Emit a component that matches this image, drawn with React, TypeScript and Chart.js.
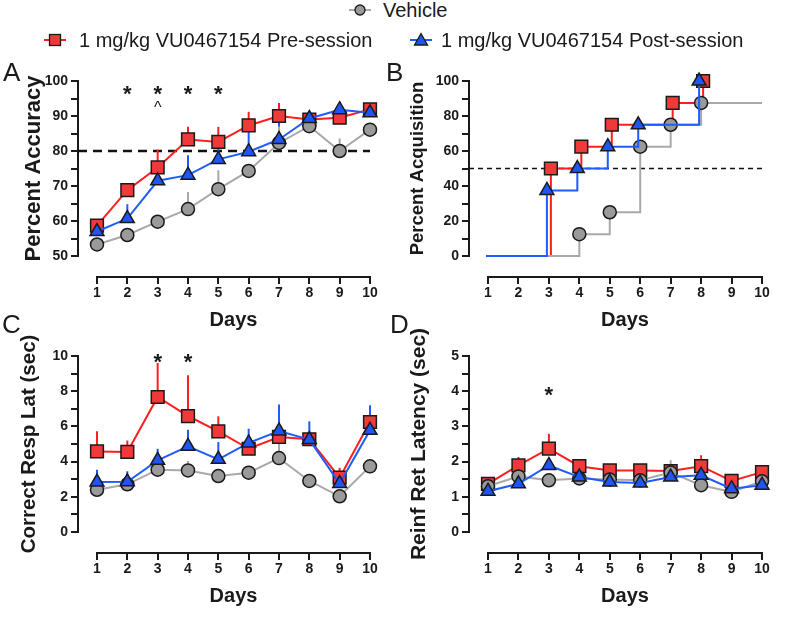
import React, { useEffect, useRef } from "react";
import { Chart, registerables } from "chart.js";

Chart.register(...registerables);

const FONT = "'Liberation Sans', Arial, Helvetica, sans-serif";
const INK = "#1a1a1a";
Chart.defaults.font.family = FONT;

// ---------------- data ----------------
const DAYS = [1, 2, 3, 4, 5, 6, 7, 8, 9, 10];
const LBL_VEH = "Vehicle";
const LBL_PRE = "1 mg/kg VU0467154 Pre-session";
const LBL_POST = "1 mg/kg VU0467154 Post-session";

// Panel A – Percent Accuracy
const ACC_TICKS = [50, 55, 60, 65, 70, 75, 80, 85, 90, 95, 100];
const ACC_LABELS = [50, 60, 70, 80, 90, 100];
const ACC_CRITERION = 80;
const accVehicle = [53.3, 56.0, 59.8, 63.4, 69.1, 74.3, 82.3, 87.1, 80.0, 86.1];
const accVehicleErr = [0.8, 1.0, 1.2, 4.9, 5.4, 0.8, 4.7, 1.0, 3.6, 1.2];
const accPre = [58.7, 68.8, 75.3, 83.3, 82.6, 87.3, 90.0, 89.0, 89.5, 91.9];
const accPreErr = [1.0, 1.0, 5.1, 3.6, 4.3, 3.9, 3.7, 1.0, 1.2, 1.0];
const accPost = [57.0, 60.7, 71.5, 73.1, 77.6, 79.8, 83.3, 89.3, 91.8, 90.9];
const accPostErr = [1.0, 4.1, 4.5, 5.7, 6.0, 5.9, 6.0, 1.0, 1.0, 1.0];
const ACC_STAR_DAYS = [2, 3, 4, 5];
const ACC_STAR_Y = 97.8;
const ACC_CARET_DAYS = [3];
const ACC_CARET_Y = 93.1;

// Panel B – Percent Acquisition (cumulative, stepped)
const ACQ_TICKS = [0, 10, 20, 30, 40, 50, 60, 70, 80, 90, 100];
const ACQ_LABELS = [0, 20, 40, 60, 80, 100];
const ACQ_CRITERION = 50;
const acqVehDays = [1, 4, 5, 6, 7, 8, 10];
const acqVeh = [0, 12.5, 25, 62.5, 75, 87.5, 87.5];
const acqVehMark = [0, 1, 1, 1, 1, 1, 0];
const acqPreDays = [1, 3, 4, 5, 7, 8];
const acqPre = [0, 50, 62.5, 75, 87.5, 100];
const acqPreMark = [0, 1, 1, 1, 1, 1];
const acqPostDays = [1, 3, 4, 5, 6, 8];
const acqPost = [0, 37.5, 50, 62.5, 75, 100];
const acqPostMark = [0, 1, 1, 1, 1, 1];

// Panel C – Correct Resp Lat (sec)
const LAT_TICKS = [0, 1, 2, 3, 4, 5, 6, 7, 8, 9, 10];
const LAT_LABELS = [0, 2, 4, 6, 8, 10];
const latVehicle = [2.40, 2.71, 3.54, 3.50, 3.18, 3.37, 4.20, 2.90, 2.03, 3.73];
const latVehicleErr = [0.15, 0.2, 0.35, 0.53, 0.2, 0.2, 0.8, 0.15, 0.3, 0.2];
const latPre = [4.58, 4.55, 7.67, 6.59, 5.72, 4.73, 5.40, 5.27, 3.09, 6.25];
const latPreErr = [1.14, 0.65, 1.93, 2.31, 0.85, 0.2, 0.3, 0.3, 0.56, 0.3];
const latPost = [2.84, 2.85, 4.07, 4.87, 4.13, 5.06, 5.74, 5.25, 2.75, 5.78];
const latPostErr = [0.70, 0.60, 0.66, 0.94, 0.98, 0.81, 1.51, 1.04, 0.2, 1.42];
const LAT_STAR_DAYS = [3, 4];
const LAT_STAR_Y = 10.0;

// Panel D – Reinf Ret Latency (sec)
const RET_TICKS = [0, 0.5, 1, 1.5, 2, 2.5, 3, 3.5, 4, 4.5, 5];
const RET_LABELS = [0, 1, 2, 3, 4, 5];
const retVehicle = [1.30, 1.58, 1.47, 1.52, 1.49, 1.47, 1.69, 1.33, 1.14, 1.44];
const retVehicleErr = [0.1, 0.1, 0.1, 0.1, 0.1, 0.1, 0.35, 0.1, 0.1, 0.1];
const retPre = [1.37, 1.89, 2.37, 1.87, 1.75, 1.75, 1.73, 1.87, 1.45, 1.70];
const retPreErr = [0.1, 0.24, 0.42, 0.1, 0.1, 0.1, 0.1, 0.31, 0.1, 0.1];
const retPost = [1.16, 1.37, 1.89, 1.56, 1.42, 1.39, 1.56, 1.61, 1.23, 1.33];
const retPostErr = [0.1, 0.1, 0.1, 0.1, 0.1, 0.1, 0.1, 0.1, 0.1, 0.1];
const RET_STAR_DAYS = [3];
const RET_STAR_Y = 4.05;

// ---------------- styles ----------------
const STYLE: Record<string, any> = {
  veh: { label: LBL_VEH, line: "#a9a9a9", fill: "#9a9a9a", point: "circle", r: 6.5 },
  pre: { label: LBL_PRE, line: "#ff1e1e", fill: "#f03a3a", point: "rect", r: 9 },
  post: { label: LBL_POST, line: "#1e5cff", fill: "#1f55f5", point: "triangle", r: 8 },
};

function lineSeries(key: string, values: number[], errors: number[]) {
  const st = STYLE[key];
  return {
    label: st.label,
    data: DAYS.map((d, i) => ({ x: d, y: values[i] })),
    errors,
    borderColor: st.line,
    borderWidth: 2,
    pointStyle: st.point,
    pointRadius: st.r,
    pointHoverRadius: st.r,
    pointBackgroundColor: st.fill,
    pointBorderColor: INK,
    pointBorderWidth: 1.5,
    fill: false,
    tension: 0,
    clip: false,
  };
}

function stepSeries(key: string, days: number[], values: number[], marks: number[], shift: number) {
  const st = STYLE[key];
  return {
    label: st.label,
    data: days.map((d, i) => ({ x: d, y: values[i] })),
    shift,
    stepped: true,
    borderColor: st.line,
    borderWidth: 2,
    pointStyle: st.point,
    pointRadius: (c: any) => (marks[c.dataIndex] ? st.r : 0),
    pointHoverRadius: (c: any) => (marks[c.dataIndex] ? st.r : 0),
    pointBackgroundColor: st.fill,
    pointBorderColor: INK,
    pointBorderWidth: 1.5,
    fill: false,
    clip: false,
  };
}

type Mark = { days: number[]; y: number; text: string; size: number; weight: string; lift: number };
type Spec = {
  datasets: any[];
  yMin: number;
  yMax: number;
  yTicks: number[];
  yLabels: number[];
  yTitle: string;
  yTitleSize: number;
  yTitlePad: number;
  padTop: number;
  padRight: number;
  ref?: { value: number; width: number; dash: number[] };
  marks?: Mark[];
};

const AXIS_GAP = 19; // gap between the y axis line and day 1
const XAXIS_DROP = 21; // gap between the plot floor and the x axis line
const Y_AXIS_W = 78;
const X_AXIS_H = 55;

function drawMarks(chart: any, marks: Mark[]) {
  const ctx = chart.ctx;
  const xs = chart.scales.x;
  const ys = chart.scales.y;
  ctx.save();
  ctx.fillStyle = INK;
  ctx.textAlign = "center";
  ctx.textBaseline = "alphabetic";
  marks.forEach((m) => {
    ctx.font = `${m.weight} ${m.size}px ${FONT}`;
    m.days.forEach((d) => {
      ctx.fillText(m.text, xs.getPixelForValue(d), ys.getPixelForValue(m.y) + m.lift * m.size);
    });
  });
  ctx.restore();
}

function drawUnderlay(chart: any, spec: Spec) {
  const ctx = chart.ctx;
  const xs = chart.scales.x;
  const ys = chart.scales.y;
  const axisX = chart.scales.yAxis ? chart.scales.yAxis.right : chart.chartArea.left - AXIS_GAP;
  ctx.save();
  if (spec.ref) {
    const py = ys.getPixelForValue(spec.ref.value);
    ctx.setLineDash(spec.ref.dash);
    ctx.lineWidth = spec.ref.width;
    ctx.strokeStyle = "#111";
    ctx.beginPath();
    ctx.moveTo(axisX, py);
    ctx.lineTo(xs.getPixelForValue(DAYS[DAYS.length - 1]), py);
    ctx.stroke();
    ctx.setLineDash([]);
  }
  chart.data.datasets.forEach((ds: any, i: number) => {
    if (!ds.errors) return;
    const meta = chart.getDatasetMeta(i);
    ctx.strokeStyle = ds.borderColor;
    ctx.lineWidth = 2;
    meta.data.forEach((pt: any, j: number) => {
      const e = ds.errors[j];
      if (!e) return;
      const top = ys.getPixelForValue(ds.data[j].y + e);
      ctx.beginPath();
      ctx.moveTo(pt.x, pt.y);
      ctx.lineTo(pt.x, top);
      ctx.stroke();
    });
  });
  ctx.restore();
}

const spacer = (min: number, max: number, position: string, size: number) => ({
  type: "linear",
  min,
  max,
  position,
  weight: 0,
  display: true,
  afterFit: (s: any) => {
    if (position === "left") s.width = size;
    else s.height = size;
  },
  ticks: { display: false },
  grid: { display: false, drawTicks: false },
  border: { display: false },
  title: { display: false },
});

function buildConfig(spec: Spec): any {
  const yTicks = spec.yTicks;
  const yLabels = spec.yLabels;
  const marks = spec.marks || [];
  const tickFont = { size: 14, weight: "bold", family: FONT };
  const axisGrid = {
    display: true,
    drawOnChartArea: false,
    drawTicks: true,
    tickLength: 7,
    tickWidth: 2,
    tickColor: INK,
    color: INK,
    lineWidth: 2,
  };
  return {
    type: "line",
    data: { datasets: spec.datasets },
    plugins: [
      {
        id: "underlay",
        beforeDatasetsDraw: (c: any) => drawUnderlay(c, spec),
        beforeDatasetDraw: (c: any, args: any) => {
          const s = c.data.datasets[args.index].shift;
          if (s) {
            c.ctx.save();
            c.ctx.translate(s, 0);
          }
        },
        afterDatasetDraw: (c: any, args: any) => {
          if (c.data.datasets[args.index].shift) c.ctx.restore();
        },
        afterDraw: (c: any) => drawMarks(c, marks),
      },
    ],
    options: {
      responsive: false,
      animation: false,
      events: [],
      layout: { padding: { top: spec.padTop, right: spec.padRight, left: 0, bottom: 0 } },
      plugins: { legend: { display: false }, tooltip: { enabled: false } },
      scales: {
        // data scales (also act as the spacing that detaches the axes)
        x: spacer(DAYS[0], DAYS[DAYS.length - 1], "bottom", XAXIS_DROP),
        y: spacer(spec.yMin, spec.yMax, "left", AXIS_GAP),
        // visible, detached axes
        xAxis: {
          type: "linear",
          position: "bottom",
          weight: 1,
          min: DAYS[0],
          max: DAYS[DAYS.length - 1],
          afterFit: (s: any) => {
            s.height = X_AXIS_H;
          },
          afterBuildTicks: (s: any) => {
            s.ticks = DAYS.map((v) => ({ value: v }));
          },
          grid: axisGrid,
          border: { display: true, color: INK, width: 2 },
          ticks: {
            padding: 1,
            autoSkip: false,
            maxRotation: 0,
            color: INK,
            font: tickFont,
            callback: (v: any) => String(v),
          },
          title: {
            display: true,
            text: "Days",
            color: INK,
            font: { size: 20, weight: "bold", family: FONT },
            padding: { top: 0, bottom: 0 },
          },
        },
        yAxis: {
          type: "linear",
          position: "left",
          weight: 1,
          min: spec.yMin,
          max: spec.yMax,
          afterFit: (s: any) => {
            s.width = Y_AXIS_W;
          },
          afterBuildTicks: (s: any) => {
            s.ticks = yTicks.map((v) => ({ value: v }));
          },
          grid: axisGrid,
          border: { display: true, color: INK, width: 2 },
          ticks: {
            padding: 3,
            autoSkip: false,
            color: INK,
            font: tickFont,
            callback: (v: any) => (yLabels.includes(v) ? String(v) : ""),
          },
          title: {
            display: true,
            text: spec.yTitle,
            color: INK,
            font: { size: spec.yTitleSize, weight: "bold", family: FONT },
            padding: { top: spec.yTitlePad, bottom: 0 },
          },
        },
      },
    },
  };
}

const SPEC_A: Spec = {
  datasets: [
    lineSeries("post", accPost, accPostErr),
    lineSeries("veh", accVehicle, accVehicleErr),
    lineSeries("pre", accPre, accPreErr),
  ],
  yMin: 50,
  yMax: 100,
  yTicks: ACC_TICKS,
  yLabels: ACC_LABELS,
  yTitle: "Percent Accuracy",
  yTitleSize: 22,
  yTitlePad: 21,
  padTop: 31,
  padRight: 25,
  ref: { value: ACC_CRITERION, width: 2.5, dash: [9, 6] },
  marks: [
    { days: ACC_STAR_DAYS, y: ACC_STAR_Y, text: "*", size: 22, weight: "bold", lift: 0.57 },
    { days: ACC_CARET_DAYS, y: ACC_CARET_Y, text: "^", size: 16, weight: "normal", lift: 0.52 },
  ],
};

const SPEC_B: Spec = {
  datasets: [
    stepSeries("post", acqPostDays, acqPost, acqPostMark, -2),
    stepSeries("veh", acqVehDays, acqVeh, acqVehMark, 0),
    stepSeries("pre", acqPreDays, acqPre, acqPreMark, 2),
  ],
  yMin: 0,
  yMax: 100,
  yTicks: ACQ_TICKS,
  yLabels: ACQ_LABELS,
  yTitle: "Percent Acquisition",
  yTitleSize: 18.5,
  yTitlePad: 16,
  padTop: 31,
  padRight: 24,
  ref: { value: ACQ_CRITERION, width: 1.5, dash: [5, 4] },
};

const SPEC_C: Spec = {
  datasets: [
    lineSeries("post", latPost, latPostErr),
    lineSeries("veh", latVehicle, latVehicleErr),
    lineSeries("pre", latPre, latPreErr),
  ],
  yMin: 0,
  yMax: 10,
  yTicks: LAT_TICKS,
  yLabels: LAT_LABELS,
  yTitle: "Correct Resp Lat (sec)",
  yTitleSize: 20.5,
  yTitlePad: 17,
  padTop: 36,
  padRight: 25,
  marks: [{ days: LAT_STAR_DAYS, y: LAT_STAR_Y, text: "*", size: 22, weight: "bold", lift: 0.57 }],
};

const SPEC_D: Spec = {
  datasets: [
    lineSeries("post", retPost, retPostErr),
    lineSeries("veh", retVehicle, retVehicleErr),
    lineSeries("pre", retPre, retPreErr),
  ],
  yMin: 0,
  yMax: 5,
  yTicks: RET_TICKS,
  yLabels: RET_LABELS,
  yTitle: "Reinf Ret Latency (sec)",
  yTitleSize: 21,
  yTitlePad: 16,
  padTop: 36,
  padRight: 24,
  marks: [{ days: RET_STAR_DAYS, y: RET_STAR_Y, text: "*", size: 22, weight: "bold", lift: 0.57 }],
};

function Panel({ spec, left, top, width, height }: { spec: Spec; left: number; top: number; width: number; height: number }) {
  const ref = useRef<HTMLCanvasElement>(null);
  useEffect(() => {
    const chart = new Chart(ref.current as HTMLCanvasElement, buildConfig(spec));
    return () => chart.destroy();
  }, [spec]);
  return (
    <canvas
      ref={ref}
      width={width}
      height={height}
      style={{ position: "absolute", left, top, width, height }}
    />
  );
}

function LegendIcon({ kind }: { kind: string }) {
  const st = STYLE[kind];
  let marker: any;
  if (kind === "veh") marker = <circle cx={12} cy={9} r={5} fill={st.fill} stroke={INK} strokeWidth={1.3} />;
  else if (kind === "pre") marker = <rect x={6.5} y={3.5} width={11} height={11} fill={st.fill} stroke={INK} strokeWidth={1.3} />;
  else marker = <polygon points="12,2.5 18.5,14 5.5,14" fill={st.fill} stroke={INK} strokeWidth={1.3} />;
  return (
    <svg width={24} height={18} style={{ display: "block" }}>
      <line x1={1} y1={9} x2={23} y2={9} stroke={st.line} strokeWidth={2} />
      {marker}
    </svg>
  );
}

function LegendItem({ kind, iconX, textX, top }: { kind: string; iconX: number; textX: number; top: number }) {
  return (
    <>
      <div style={{ position: "absolute", left: iconX - 12, top: top + 1 }}>
        <LegendIcon kind={kind} />
      </div>
      <div
        style={{
          position: "absolute",
          left: textX,
          top,
          fontSize: 20,
          lineHeight: "20px",
          whiteSpace: "nowrap",
          color: INK,
          fontFamily: FONT,
        }}
      >
        {STYLE[kind].label}
      </div>
    </>
  );
}

function Letter({ text, left, top }: { text: string; left: number; top: number }) {
  return (
    <div style={{ position: "absolute", left, top, fontSize: 26, lineHeight: "26px", color: INK, fontFamily: FONT }}>
      {text}
    </div>
  );
}

export default function App() {
  return (
    <div
      style={{
        position: "absolute",
        left: 0,
        top: 0,
        width: 800,
        height: 636,
        background: "#fff",
        overflow: "hidden",
        fontFamily: FONT,
      }}
    >
      <Panel spec={SPEC_A} left={0} top={50} width={395} height={282} />
      <Panel spec={SPEC_B} left={391} top={50} width={395} height={282} />
      <Panel spec={SPEC_C} left={0} top={320} width={395} height={288} />
      <Panel spec={SPEC_D} left={391} top={320} width={395} height={288} />

      <LegendItem kind="veh" iconX={360} textX={383} top={0} />
      <LegendItem kind="pre" iconX={55} textX={79} top={30} />
      <LegendItem kind="post" iconX={421} textX={441} top={30} />

      <Letter text="A" left={3} top={59} />
      <Letter text="B" left={386} top={59} />
      <Letter text="C" left={2} top={311} />
      <Letter text="D" left={390} top={311} />
    </div>
  );
}
